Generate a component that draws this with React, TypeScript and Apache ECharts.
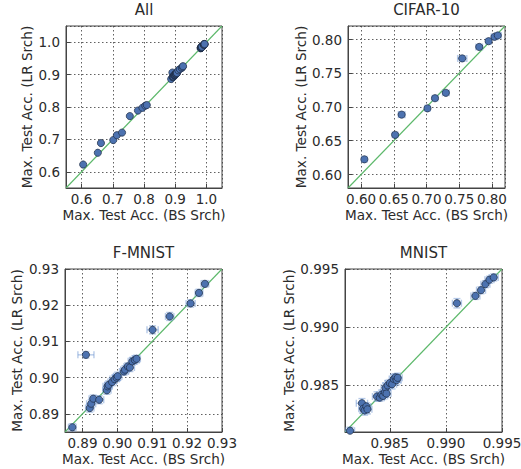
import React, { useEffect, useRef } from "react";
import * as echarts from "echarts";

// ---- data ----
const cifarBS = [0.605, 0.652, 0.662, 0.7015, 0.713, 0.7296, 0.7546, 0.7806, 0.795, 0.804, 0.809];
const cifarLR = [0.6225, 0.6588, 0.6887, 0.698, 0.713, 0.721, 0.772, 0.789, 0.7975, 0.804, 0.806];
const cifarBSErr = [0.004, 0.004, 0.005, 0.004, 0.004, 0.005, 0.007, 0.005, 0.004, 0.005, 0.005];
const cifarLRErr = [0.003, 0.003, 0.004, 0.003, 0.003, 0.003, 0.004, 0.003, 0.003, 0.003, 0.003];

const fmnistBS = [0.8871, 0.891, 0.8921, 0.8925, 0.8931, 0.8948, 0.897, 0.8972, 0.8975, 0.8985, 0.8992, 0.8998, 0.9001, 0.9019, 0.9022, 0.903, 0.9036, 0.9043, 0.905, 0.9055, 0.9101, 0.915, 0.921, 0.9234, 0.9251];
const fmnistLR = [0.8863, 0.9063, 0.8916, 0.8928, 0.8942, 0.8939, 0.8965, 0.8976, 0.898, 0.8988, 0.8996, 0.9, 0.9004, 0.9017, 0.9022, 0.9031, 0.9028, 0.9045, 0.9049, 0.9052, 0.9132, 0.9169, 0.9205, 0.9234, 0.9259];
const fmnistBSErr = [0.0011, 0.0023, 0.0012, 0.0013, 0.0012, 0.0013, 0.0012, 0.0013, 0.0011, 0.0012, 0.0013, 0.0011, 0.0012, 0.0013, 0.0012, 0.0011, 0.0013, 0.0012, 0.0013, 0.0011, 0.0016, 0.0012, 0.0013, 0.0011, 0.0011];
const fmnistLRErr = [0.001, 0.0009, 0.0011, 0.0011, 0.001, 0.0011, 0.0011, 0.001, 0.0011, 0.001, 0.0011, 0.001, 0.0011, 0.001, 0.0011, 0.001, 0.0011, 0.001, 0.0011, 0.001, 0.0011, 0.0011, 0.001, 0.001, 0.0009];

const mnistBS = [0.98145, 0.98251, 0.98262, 0.98275, 0.9829, 0.983, 0.98385, 0.9841, 0.98425, 0.9844, 0.98455, 0.98462, 0.9847, 0.9848, 0.985, 0.9852, 0.98535, 0.9855, 0.9856, 0.9857, 0.99098, 0.99263, 0.99313, 0.99352, 0.99388, 0.99426];
const mnistLR = [0.98111, 0.98347, 0.983, 0.98285, 0.9832, 0.98295, 0.98405, 0.98395, 0.9842, 0.9841, 0.9844, 0.9848, 0.9843, 0.985, 0.9852, 0.9851, 0.98555, 0.9857, 0.98545, 0.98565, 0.99206, 0.99269, 0.99318, 0.9937, 0.99408, 0.99428];
const mnistBSErr = [0.0004, 0.0005, 0.0004, 0.0004, 0.0004, 0.0004, 0.0004, 0.0004, 0.0004, 0.0004, 0.0004, 0.0004, 0.0004, 0.0004, 0.0004, 0.0004, 0.0004, 0.0004, 0.0004, 0.0004, 0.0004, 0.0004, 0.0004, 0.0004, 0.0004, 0.0004];
const mnistLRErr = [0.0003, 0.0004, 0.0004, 0.0004, 0.0003, 0.0004, 0.0004, 0.0003, 0.0004, 0.0003, 0.0004, 0.0004, 0.0003, 0.0004, 0.0003, 0.0004, 0.0004, 0.0003, 0.0004, 0.0004, 0.0004, 0.0003, 0.0003, 0.0003, 0.0003, 0.0003];

const allBS = [...cifarBS, ...fmnistBS, ...mnistBS];
const allLR = [...cifarLR, ...fmnistLR, ...mnistLR];

const titles = ["All", "CIFAR-10", "F-MNIST", "MNIST"];
const axisMin = [0.55, 0.58, 0.885, 0.981];
const axisMax = [1.05, 0.82, 0.93, 0.995];
const tickStep = [0.1, 0.05, 0.01, 0.005];
const tickDecimals = [1, 2, 2, 3];

const X_NAME = "Max. Test Acc. (BS Srch)";
const Y_NAME = "Max. Test Acc. (LR Srch)";

const FONT = "DejaVu Sans";
const TEXT = "#2b2b2b";
const FRAME = "#444444";
const BLUE = "#4c72b0";
const GREEN = "#5cb86a";

export default function App() {
  const ref = useRef<HTMLDivElement>(null);

  useEffect(() => {
    if (!ref.current) return;
    const chart = echarts.init(ref.current, null, { renderer: "svg" });

    const grids = [
      { left: 66, top: 26, width: 156, height: 162 },
      { left: 348, top: 26, width: 157, height: 162 },
      { left: 65, top: 269, width: 157, height: 163 },
      { left: 345, top: 269, width: 157, height: 163 },
    ];
    const yGaps = [32, 40, 41, 49];
    const showMax = [false, false, true, true];
    const datasets = [
      { bs: allBS, lr: allLR, bsErr: null as number[] | null, lrErr: null as number[] | null },
      { bs: cifarBS, lr: cifarLR, bsErr: cifarBSErr, lrErr: cifarLRErr },
      { bs: fmnistBS, lr: fmnistLR, bsErr: fmnistBSErr, lrErr: fmnistLRErr },
      { bs: mnistBS, lr: mnistLR, bsErr: mnistBSErr, lrErr: mnistLRErr },
    ];

    const mkAxis = (i: number, isX: boolean) => ({
      type: "value",
      gridIndex: i,
      min: axisMin[i],
      max: axisMax[i],
      minInterval: tickStep[i],
      maxInterval: tickStep[i],
      splitNumber: 5,
      name: isX ? X_NAME : Y_NAME,
      nameLocation: "middle",
      nameGap: isX ? 20 : yGaps[i],
      nameTextStyle: { fontFamily: FONT, fontSize: 13.6, color: TEXT },
      axisLine: { show: true, onZero: false, lineStyle: { color: FRAME, width: 1 } },
      axisTick: { show: true, inside: true, length: 4, lineStyle: { color: FRAME, width: 1 } },
      axisLabel: {
        fontFamily: FONT,
        fontSize: 13.5,
        color: TEXT,
        margin: isX ? 4 : 6,
        showMinLabel: false,
        showMaxLabel: showMax[i],
        hideOverlap: false,
        formatter: (v: number) => v.toFixed(tickDecimals[i]),
      },
      splitLine: { show: true, lineStyle: { color: "#3a3a3a", type: [1.5, 2.5], width: 1, opacity: 0.8 } },
    });

    const series: any[] = [];
    datasets.forEach((d, i) => {
      // diagonal y = x
      series.push({
        type: "line",
        xAxisIndex: i,
        yAxisIndex: i,
        data: [
          [axisMin[i], axisMin[i]],
          [axisMax[i], axisMax[i]],
        ],
        symbol: "none",
        silent: true,
        lineStyle: { color: GREEN, width: 1.1 },
        z: 3,
      });
      if (d.bsErr && d.lrErr) {
        const errData = d.bs.map((x, k) => [x, d.lr[k], d.bsErr![k], d.lrErr![k]]);
        series.push({
          type: "custom",
          xAxisIndex: i,
          yAxisIndex: i,
          data: errData,
          encode: { x: 0, y: 1 },
          silent: true,
          clip: true,
          z: 4,
          renderItem: (params: any, api: any) => {
            const x = api.value(0);
            const y = api.value(1);
            const xe = api.value(2);
            const ye = api.value(3);
            const l = api.coord([x - xe, y]);
            const r = api.coord([x + xe, y]);
            const t = api.coord([x, y + ye]);
            const b = api.coord([x, y - ye]);
            const cap = 3.5;
            const style = { stroke: "rgba(110,150,210,0.5)", lineWidth: 1.4 };
            const seg = (x1: number, y1: number, x2: number, y2: number) => ({
              type: "line",
              shape: { x1, y1, x2, y2 },
              style,
            });
            return {
              type: "group",
              children: [
                seg(l[0], l[1], r[0], r[1]),
                seg(l[0], l[1] - cap, l[0], l[1] + cap),
                seg(r[0], r[1] - cap, r[0], r[1] + cap),
                seg(t[0], t[1], b[0], b[1]),
                seg(t[0] - cap, t[1], t[0] + cap, t[1]),
                seg(b[0] - cap, b[1], b[0] + cap, b[1]),
              ],
            };
          },
        });
      }
      series.push({
        type: "scatter",
        xAxisIndex: i,
        yAxisIndex: i,
        data: d.bs.map((x, k) => [x, d.lr[k]]),
        symbol: "circle",
        symbolSize: 7.2,
        itemStyle: { color: BLUE, borderColor: "#1c2b44", borderWidth: 0.7, opacity: 1 },
        z: 5,
      });
    });

    const titleCenters = [
      [144, 10],
      [426.5, 10],
      [143.5, 253],
      [423.5, 253],
    ];

    chart.setOption({
      animation: false,
      backgroundColor: "#ffffff",
      grid: grids.map((g) => ({
        ...g,
        show: true,
        borderColor: FRAME,
        borderWidth: 1,
        backgroundColor: "transparent",
        containLabel: false,
        outerBoundsMode: "none",
      })),
      xAxis: grids.map((_, i) => mkAxis(i, true)),
      yAxis: grids.map((_, i) => mkAxis(i, false)),
      series,
      graphic: titles.map((t, i) => ({
        type: "text",
        x: titleCenters[i][0],
        y: titleCenters[i][1],
        silent: true,
        style: {
          text: t,
          fontFamily: FONT,
          fontSize: 15,
          fontWeight: "normal",
          fill: TEXT,
          align: "center",
          verticalAlign: "middle",
        },
      })),
    });

    return () => chart.dispose();
  }, []);

  return (
    <div
      ref={ref}
      style={{ position: "absolute", left: 0, top: 0, width: 521, height: 469 }}
    />
  );
}
